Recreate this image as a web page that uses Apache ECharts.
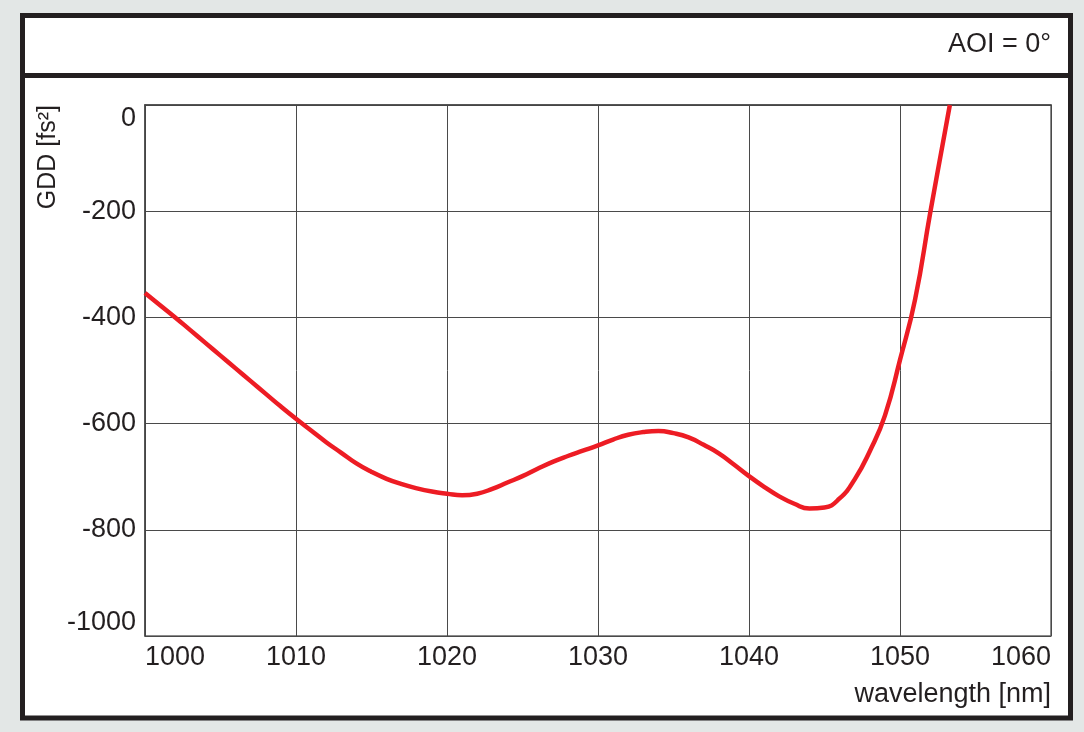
<!DOCTYPE html>
<html>
<head>
<meta charset="utf-8">
<script src="https://cdn.jsdelivr.net/npm/echarts@6/dist/echarts.min.js"></script>
<style>
html,body{margin:0;padding:0;background:#e3e7e6;}
#c{width:1084px;height:732px;}
</style>
</head>
<body>
<div id="c"></div>
<script>
// Data
const wavelength = [1000, 1001, 1002, 1003, 1004, 1005, 1006, 1007, 1008, 1009,
                    1010, 1011, 1012, 1013, 1014, 1015, 1016, 1017, 1018, 1019,
                    1020, 1021, 1022, 1023, 1024, 1025, 1026, 1027, 1028, 1029,
                    1030, 1031, 1032, 1033, 1034, 1035, 1036, 1037, 1038, 1039,
                    1040, 1041, 1042, 1043, 1044, 1045, 1046, 1047, 1048, 1049,
                    1050, 1051, 1052, 1053, 1053.3];
const gdd = [-354, -377, -400, -424, -448, -472, -496, -520, -544, -568,
             -591, -613, -635, -655, -675, -691, -704, -714, -722, -728,
             -732, -735, -732, -723, -711, -699, -685, -672, -661, -651,
             -641, -630, -621, -616, -614, -618, -626, -640, -656, -677,
             -699, -719, -737, -751, -760, -758, -741, -705, -652, -585,
             -480, -366, -203, -47, 0];
const xTicks = [1000, 1010, 1020, 1030, 1040, 1050, 1060];
const yTicks = [0, -200, -400, -600, -800, -1000];
const titleText = 'AOI = 0°';
const yName = 'GDD [fs²]';
const xName = 'wavelength [nm]';

const txtFont = '"Liberation Sans", Arial, sans-serif';
const ink = '#231f20';

const chart = echarts.init(document.getElementById('c'), null, {renderer: 'canvas'});
chart.setOption({
  backgroundColor: '#e3e7e6',
  animation: false,
  graphic: [
    {type: 'rect', z: -1, shape: {x: 22.5, y: 15.5, width: 1048, height: 702.5},
     style: {fill: '#ffffff', stroke: ink, lineWidth: 5}},
    {type: 'line', z: -1, shape: {x1: 22.5, y1: 75.5, x2: 1070.5, y2: 75.5},
     style: {stroke: ink, lineWidth: 5}},
    {type: 'text', right: 33, top: 31,
     style: {text: titleText, font: '27px ' + txtFont, fill: ink}},
    {type: 'text', x: 36, y: 105, rotation: Math.PI / 2, origin: [0, 0],
     style: {text: yName, font: '25px ' + txtFont, fill: ink, align: 'right', verticalAlign: 'top'}},
    {type: 'text', right: 33, top: 681,
     style: {text: xName, font: '27px ' + txtFont, fill: ink}}
  ],
  grid: {left: 145, top: 105, right: 33, bottom: 96, show: true,
         borderColor: '#666', borderWidth: 1.5, backgroundColor: 'transparent', containLabel: false},
  xAxis: {
    type: 'value', min: xTicks[0], max: xTicks[xTicks.length - 1], interval: 10,
    axisLine: {show: true, lineStyle: {color: '#444', width: 1.5}},
    axisTick: {show: false},
    splitLine: {show: true, lineStyle: {color: '#4a4a4a', width: 1}},
    axisLabel: {fontSize: 27, fontFamily: txtFont, color: ink, margin: 8,
                formatter: v => String(v),
                alignMinLabel: 'left', alignMaxLabel: 'right'}
  },
  yAxis: {
    type: 'value', min: yTicks[yTicks.length - 1], max: yTicks[0], interval: 200,
    axisLine: {show: true, lineStyle: {color: '#444', width: 1.5}},
    axisTick: {show: false},
    splitLine: {show: true, lineStyle: {color: '#4a4a4a', width: 1}},
    axisLabel: {fontSize: 27, fontFamily: txtFont, color: ink, margin: 9,
                formatter: v => String(v),
                verticalAlignMinLabel: 'bottom', verticalAlignMaxLabel: 'top'}
  },
  series: [{
    type: 'line',
    data: wavelength.map((w, i) => [w, gdd[i]]),
    smooth: 0.5,
    showSymbol: false,
    clip: true,
    lineStyle: {color: '#ed1c24', width: 4.5}
  }]
});
</script>
</body>
</html>
